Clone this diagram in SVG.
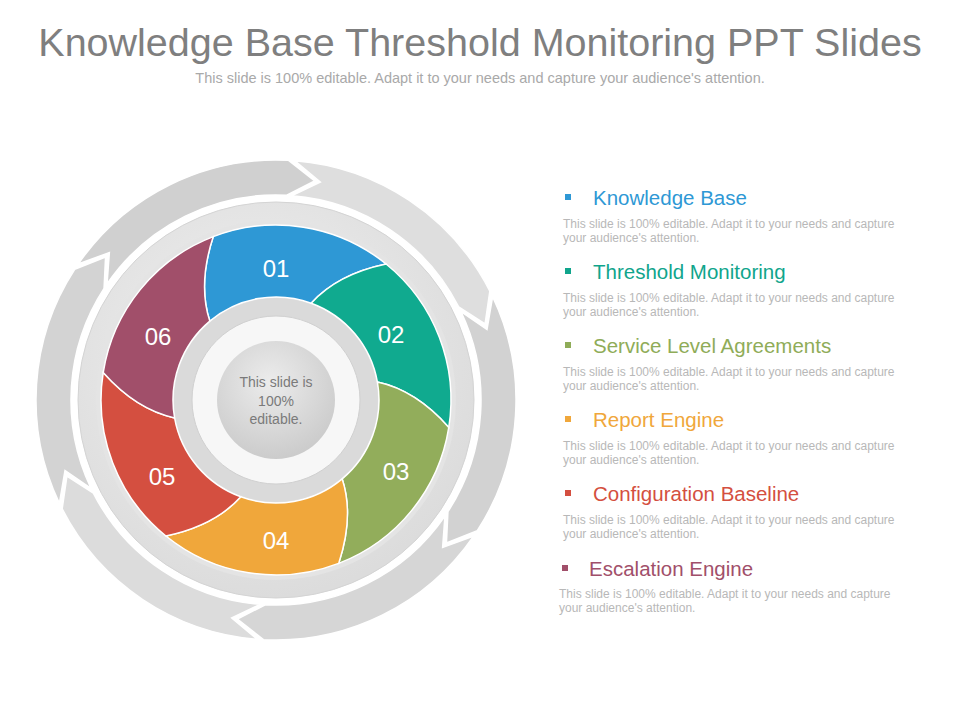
<svg xmlns="http://www.w3.org/2000/svg" xmlns:xlink="http://www.w3.org/1999/xlink" width="960" height="720" viewBox="0 0 960 720">
<defs>
<style>
text{font-family:"Liberation Sans",Arial,sans-serif}
.num{fill:#fff;font-size:24px;text-anchor:middle}
.ttl{font-size:20.5px}
.dsc{fill:#b8b8b8;font-size:12px}
.seg{stroke:#fff;stroke-width:1.5}
</style>
<path id="arw" d="M239.92,6.28 A240,240 0 0 1 120,207.85 L86.93,204.81 L102.5,177.54 A205,205 0 0 0 204.93,5.37 L220.05,32.89 Z" stroke="#fff" stroke-width="1.5"/>
<radialGradient id="plate" cx="0.45" cy="0.4" r="0.6"><stop offset="0" stop-color="#f2f2f2"/><stop offset="1" stop-color="#dcdcdc"/></radialGradient>
<radialGradient id="core" cx="0.45" cy="0.35" r="0.7"><stop offset="0" stop-color="#ececec"/><stop offset="1" stop-color="#c9c9c9"/></radialGradient>
</defs>
<rect width="960" height="720" fill="#fff"/>
<text x="480" y="56" text-anchor="middle" font-size="39.5" fill="#7f7f7f">Knowledge Base Threshold Monitoring PPT Slides</text>
<text x="480" y="83" text-anchor="middle" font-size="14.5" fill="#a9a9a9">This slide is 100% editable. Adapt it to your needs and capture your audience's attention.</text>
<g id="arrows" transform="translate(276,400)">
<use xlink:href="#arw" transform="rotate(-87)" fill="#dedede"/>
<use xlink:href="#arw" transform="rotate(-27)" fill="#d2d2d2"/>
<use xlink:href="#arw" transform="rotate(33)" fill="#d6d6d6"/>
<use xlink:href="#arw" transform="rotate(93)" fill="#dcdcdc"/>
<use xlink:href="#arw" transform="rotate(153)" fill="#d3d3d3"/>
<use xlink:href="#arw" transform="rotate(213)" fill="#d0d0d0"/>
</g>
<circle cx="276" cy="400" r="198" fill="url(#plate)" stroke="#d4d4d4" stroke-width="1"/>
<circle cx="276" cy="400" r="180" fill="#e4e4e4"/>
<g id="seg01"><path class="seg" fill="#2e98d5" d="M209.8,321.1 Q197.7,283.9 213.3,236.6 A175,175 0 0 1 386.1,264 Q337.4,274.2 311.2,303.2 A103,103 0 0 0 209.8,321.1 Z"/><text class="num" x="276" y="277">01</text></g>
<g id="seg02"><path class="seg" fill="#10aa8f" d="M311.2,303.2 Q337.4,274.2 386.1,264 A175,175 0 0 1 448.8,427.4 Q415.7,390.2 377.4,382.1 A103,103 0 0 0 311.2,303.2 Z"/><text class="num" x="391" y="343">02</text></g>
<g id="seg03"><path class="seg" fill="#92ad5b" d="M377.4,382.1 Q415.7,390.2 448.8,427.4 A175,175 0 0 1 338.7,563.4 Q354.3,516.1 342.2,478.9 A103,103 0 0 0 377.4,382.1 Z"/><text class="num" x="396" y="480">03</text></g>
<g id="seg04"><path class="seg" fill="#f0a73b" d="M342.2,478.9 Q354.3,516.1 338.7,563.4 A175,175 0 0 1 165.9,536 Q214.6,525.8 240.8,496.8 A103,103 0 0 0 342.2,478.9 Z"/><text class="num" x="276" y="549">04</text></g>
<g id="seg05"><path class="seg" fill="#d44f40" d="M240.8,496.8 Q214.6,525.8 165.9,536 A175,175 0 0 1 103.2,372.6 Q136.3,409.8 174.6,417.9 A103,103 0 0 0 240.8,496.8 Z"/><text class="num" x="162" y="485">05</text></g>
<g id="seg06"><path class="seg" fill="#a14f6a" d="M174.6,417.9 Q136.3,409.8 103.2,372.6 A175,175 0 0 1 213.3,236.6 Q197.7,283.9 209.8,321.1 A103,103 0 0 0 174.6,417.9 Z"/><text class="num" x="158" y="345">06</text></g>
<g id="center">
<circle cx="276" cy="400" r="102" fill="#dadada"/>
<circle cx="276" cy="400" r="84" fill="#f7f7f7" stroke="#d0d0d0" stroke-width="1"/>
<circle cx="276" cy="400" r="59" fill="url(#core)"/>
<text x="276" y="387" text-anchor="middle" font-size="14" fill="#7a7a7a">This slide is</text>
<text x="276" y="406" text-anchor="middle" font-size="14" fill="#7a7a7a">100%</text>
<text x="276" y="424" text-anchor="middle" font-size="14" fill="#7a7a7a">editable.</text>
</g>
<g id="item1"><rect x="565" y="194" width="6" height="6" fill="#2e98d5"/><text class="ttl" x="593" y="205" fill="#2e98d5">Knowledge  Base</text><text class="dsc" x="563" y="228">This slide is 100% editable. Adapt it to your needs and capture</text><text class="dsc" x="563" y="242">your audience's attention.</text></g>
<g id="item2"><rect x="565" y="268" width="6" height="6" fill="#10a58c"/><text class="ttl" x="593" y="279" fill="#10a58c">Threshold  Monitoring</text><text class="dsc" x="563" y="302">This slide is 100% editable. Adapt it to your needs and capture</text><text class="dsc" x="563" y="316">your audience's attention.</text></g>
<g id="item3"><rect x="565" y="342" width="6" height="6" fill="#8fac58"/><text class="ttl" x="593" y="353" fill="#8fac58">Service Level Agreements</text><text class="dsc" x="563" y="376">This slide is 100% editable. Adapt it to your needs and capture</text><text class="dsc" x="563" y="390">your audience's attention.</text></g>
<g id="item4"><rect x="565" y="416" width="6" height="6" fill="#f0a73b"/><text class="ttl" x="593" y="427" fill="#f0a73b">Report Engine</text><text class="dsc" x="563" y="450">This slide is 100% editable. Adapt it to your needs and capture</text><text class="dsc" x="563" y="464">your audience's attention.</text></g>
<g id="item5"><rect x="565" y="490" width="6" height="6" fill="#d44f40"/><text class="ttl" x="593" y="501" fill="#d44f40">Configuration Baseline</text><text class="dsc" x="563" y="524">This slide is 100% editable. Adapt it to your needs and capture</text><text class="dsc" x="563" y="538">your audience's attention.</text></g>
<g id="item6"><rect x="562" y="565" width="6" height="6" fill="#a14f6a"/><text class="ttl" x="589" y="576" fill="#a14f6a">Escalation Engine</text><text class="dsc" x="559" y="598">This slide is 100% editable. Adapt it to your needs and capture</text><text class="dsc" x="559" y="612">your audience's attention.</text></g>
</svg>
